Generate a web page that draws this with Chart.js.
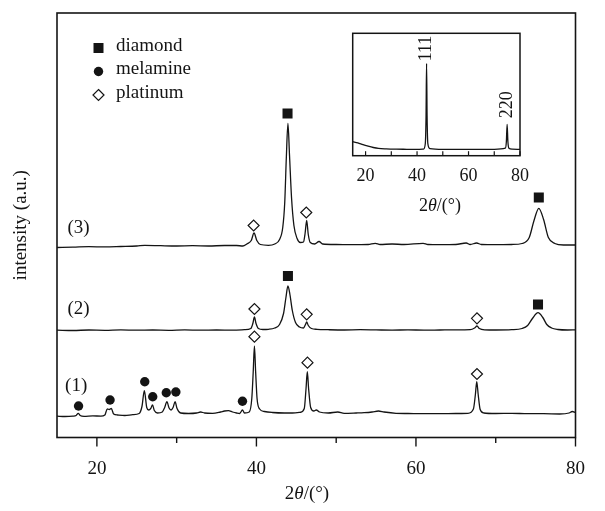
<!DOCTYPE html>
<html lang="en">
<head>
<meta charset="UTF-8">
<title>XRD patterns</title>
<script src="https://cdn.jsdelivr.net/npm/chart.js"></script>
<style>
  body { margin: 0; background: #fff; }
  #wrap { position: relative; width: 605px; height: 511px; }
  #main { position: absolute; left: 0; top: 0; }
  #inset { position: absolute; left: 340px; top: 25px; }
</style>
</head>
<body>
<div id="wrap">
  <canvas id="main" width="605" height="511"></canvas>
  <canvas id="inset" width="200" height="195"></canvas>
</div>
<script>
// ---- data (2theta in degrees, intensity in a.u.) ----
const sampleNames = ['(1)', '(2)', '(3)'];
const offsets = [21, 107, 190];

const theta1 = [15, 16, 17, 17.4, 17.66, 17.9, 18.4, 19.5, 20.5, 21, 21.3, 21.55, 21.8, 22.1, 22.6, 23.5, 24.5, 25.3, 25.65, 25.95,
  26.25, 26.5, 26.75, 26.97, 27.2, 27.6, 28.2, 28.5, 28.78, 29.05, 29.3, 29.55, 29.8, 30.05, 30.5, 31.5, 32.5, 33, 33.5, 34.5,
  35.5, 36, 36.5, 37, 37.5, 37.9, 38.25, 38.5, 39.1, 39.42, 39.6, 39.75, 39.9, 40.08, 40.4, 41, 42, 43.5, 44.5, 45.5,
  46, 46.22, 46.38, 46.54, 46.8, 47.2, 47.5, 47.9, 49, 50.2, 51, 52.5, 53.5, 54.5, 55.3, 56, 57.5, 59, 61, 63,
  65, 66.5, 67.2, 67.45, 67.62, 67.8, 68.05, 68.5, 70, 72, 74, 76, 78, 79.2, 79.6, 80];
const int1 = [0.3, 0, 0.4, 1, 3.2, 1, 0.2, 0.6, 0.4, 1.5, 7.5, 7, 8, 2.5, 1.5, 1, 1.8, 3, 10, 25.8,
  9, 6.5, 8, 11.5, 6, 3.5, 4.5, 9, 14.8, 8.5, 6.5, 9, 14.8, 8, 3.5, 3, 3.5, 4.5, 3.5, 3.2,
  4.5, 5.5, 5.8, 4.5, 3.5, 3, 6.5, 3.5, 4.5, 18, 45, 70.5, 45, 18, 7.5, 5, 4, 3.5, 3.5, 4.2,
  8, 28, 44.8, 28, 9, 5.5, 6.5, 4.5, 3.5, 4.5, 3.2, 3.5, 3.8, 4.5, 5.5, 4.5, 3.2, 3, 2.8, 2.8,
  3, 3.2, 7.5, 22, 34.8, 22, 7, 3.5, 3, 3.2, 2.8, 2.8, 2.5, 3.5, 5, 4];

const theta2 = [15, 17, 19, 21, 23, 25, 27, 29, 31, 33, 35, 37, 38.5, 39.3, 39.55, 39.75, 39.95, 40.25, 40.8, 41.5,
  42.3, 42.9, 43.4, 43.7, 43.95, 44.2, 44.5, 44.9, 45.4, 45.9, 46.15, 46.3, 46.5, 46.9, 47.6, 49, 51, 53, 55, 57,
  59, 61, 63, 65, 66.8, 67.35, 67.65, 67.95, 68.6, 70, 72, 73.3, 74, 74.6, 75.3, 75.9, 76.4, 77, 77.8, 79, 80];
const int2 = [0.3, 0, 0.5, 0.2, 0.6, 0.3, 0.5, 0.2, 0.6, 0.3, 0.5, 0.4, 0.8, 2, 7, 13.5, 7, 2, 1, 1.2,
  2.5, 6, 17, 33, 44.5, 36, 20, 8, 3.5, 2.5, 6, 8.5, 5, 2, 1.2, 0.8, 0.5, 0.8, 0.6, 0.4,
  0.6, 0.4, 0.5, 0.6, 0.8, 2.5, 4.5, 2, 0.7, 0.5, 0.8, 2, 5, 12, 17.8, 13, 6, 2.5, 1, 0.5, 0.6];

const theta3 = [15, 17, 19, 21, 23, 25, 26, 28, 30, 32, 34, 36, 37.5, 38.3, 38.8, 39.35, 39.7, 40.05, 40.5, 41.5,
  42.3, 42.9, 43.3, 43.55, 43.75, 43.95, 44.15, 44.4, 44.7, 45.1, 45.5, 45.9, 46.1, 46.3, 46.5, 46.75, 47.3, 47.85, 48.3, 50,
  52, 54, 54.9, 55.5, 57, 58.5, 60.9, 61.5, 63, 65, 66.3, 66.8, 67.6, 68.2, 70, 72, 73.3, 74.2, 74.8, 75.4,
  76, 76.6, 77.4, 78.5, 80];
const int3 = [0, 0.3, 0.8, 0.6, 1, 1.5, 2.2, 1.8, 1.5, 1.8, 1.5, 2, 2, 1.5, 3.5, 7, 14.5, 7, 3, 2.2,
  3.5, 8, 20, 45, 90, 124, 92, 50, 22, 9, 5, 5.5, 14, 27, 13, 5, 3.5, 6, 3.5, 3,
  2.8, 3, 4.2, 3, 3.5, 3, 4.2, 3, 2.8, 3, 4.5, 3, 4.5, 3, 2.8, 3, 4, 10, 27, 39.2,
  28, 10, 4, 2.5, 2.5];

// phase markers (2theta, a.u.)
const diamondTheta = [43.9, 75.4, 43.95, 75.3];
const diamondY = [324, 240, 161.5, 133];
const melamineTheta = [17.7, 21.65, 26.0, 27.0, 28.7, 29.9, 38.25];
const melamineY = [31.5, 37.5, 55.8, 40.8, 44.8, 45.5, 36.2];
const platinumTheta = [39.65, 46.25, 39.75, 46.3, 67.65, 39.75, 46.4, 67.65];
const platinumY = [212, 225, 128.5, 123.2, 119.2, 100.8, 74.8, 63.5];

// inset: pure diamond pattern
const insetTheta = [15, 17, 19, 21, 23, 25, 28, 32, 36, 40, 42.5, 43.2, 43.5, 43.7, 43.9, 44.2, 45, 50, 55, 60,
  65, 70, 74.3, 74.7, 75, 75.3, 75.7, 77, 80];
const insetInt = [14, 12.8, 11, 9.5, 8.2, 7.3, 6.8, 6.5, 6.4, 6.3, 6.6, 12, 40, 92.4, 40, 12, 7, 6.3, 6.3, 6.3,
  6.3, 6.4, 7.5, 14, 31.4, 14, 7.5, 6.5, 6.3];
const insetPeakNames = ['111', '220'];
const insetPeakTheta = [43.7, 75.0];
const insetPeakTop = [92.4, 31.4];

const xTicks = [20, 30, 40, 50, 60, 70, 80];
const xTickLabels = [20, 40, 60, 80];

// ---- styling ----
const FONT = "'Liberation Serif', 'Times New Roman', serif";
const INK = '#141414';

const pts = (xs, ys, off) => xs.map((x, i) => ({ x: x, y: ys[i] + (off || 0) }));

function traceSet(name, xs, ys, off) {
  return {
    label: name, data: pts(xs, ys, off), borderColor: INK, borderWidth: 1.3,
    pointRadius: 0, cubicInterpolationMode: 'monotone', fill: false
  };
}

function drawMarker(ctx, style, x, y) {
  ctx.beginPath();
  if (style === 'rect') {
    ctx.rect(x - 5, y - 5, 10, 10);
    ctx.fillStyle = INK; ctx.fill();
  } else if (style === 'circle') {
    ctx.arc(x, y, 4.7, 0, Math.PI * 2);
    ctx.fillStyle = INK; ctx.fill();
  } else {
    ctx.moveTo(x, y - 5.5); ctx.lineTo(x + 5.5, y); ctx.lineTo(x, y + 5.5); ctx.lineTo(x - 5.5, y); ctx.closePath();
    ctx.fillStyle = '#fff'; ctx.fill();
    ctx.lineWidth = 1.2; ctx.strokeStyle = INK; ctx.stroke();
  }
}

const mainDecor = {
  id: 'mainDecor',
  afterDraw(chart) {
    const { ctx, chartArea: a, scales: { x, y } } = chart;
    ctx.save();
    ctx.strokeStyle = INK;
    ctx.lineWidth = 1.6;
    ctx.strokeRect(a.left, a.top, a.width, a.height);
    // outward ticks on the bottom axis
    ctx.lineWidth = 1.4;
    xTicks.forEach(v => {
      const px = x.getPixelForValue(v);
      const len = xTickLabels.includes(v) ? 9 : 5.5;
      ctx.beginPath(); ctx.moveTo(px, a.bottom); ctx.lineTo(px, a.bottom + len); ctx.stroke();
    });
    ctx.fillStyle = INK;
    ctx.font = '19px ' + FONT;
    ctx.textBaseline = 'middle';
    ctx.textAlign = 'center';
    // sample numbers
    const anchors = [[17.4, 51.5], [17.7, 128.5], [17.7, 209.5]];
    sampleNames.forEach((s, i) => {
      ctx.fillText(s, x.getPixelForValue(anchors[i][0]), y.getPixelForValue(anchors[i][1]));
    });
    // legend
    const legend = [['rect', 'diamond'], ['circle', 'melamine'], ['rectRot', 'platinum']];
    legend.forEach((it, i) => {
      const ly = a.top + 35 + i * 23.5;
      drawMarker(ctx, it[0], a.left + 41.5, ly);
      ctx.fillStyle = INK;
      ctx.textAlign = 'left';
      ctx.fillText(it[1], a.left + 59, ly - 2);
    });
    // x axis title 2θ/(°)
    drawThetaTitle(ctx, 307, 494, 19);
    ctx.restore();
  }
};

function drawThetaTitle(ctx, cx, cy, size) {
  const parts = [['2', ''], ['\u03b8', 'italic '], ['/(\u00b0)', '']];
  let w = 0;
  parts.forEach(p => { ctx.font = p[1] + size + 'px ' + FONT; w += ctx.measureText(p[0]).width; });
  let px = cx - w / 2;
  ctx.textAlign = 'left';
  ctx.textBaseline = 'middle';
  ctx.fillStyle = INK;
  parts.forEach(p => {
    ctx.font = p[1] + size + 'px ' + FONT;
    ctx.fillText(p[0], px, cy);
    px += ctx.measureText(p[0]).width;
  });
}

new Chart(document.getElementById('main'), {
  type: 'line',
  data: {
    datasets: [
      traceSet(sampleNames[0], theta1, int1, offsets[0]),
      traceSet(sampleNames[1], theta2, int2, offsets[1]),
      traceSet(sampleNames[2], theta3, int3, offsets[2]),
      { type: 'scatter', label: 'diamond', data: pts(diamondTheta, diamondY), showLine: false,
        pointStyle: 'rect', pointRadius: 7.1, backgroundColor: INK, borderColor: INK, borderWidth: 0 },
      { type: 'scatter', label: 'melamine', data: pts(melamineTheta, melamineY), showLine: false,
        pointStyle: 'circle', pointRadius: 4.7, backgroundColor: INK, borderColor: INK, borderWidth: 0 },
      { type: 'scatter', label: 'platinum', data: pts(platinumTheta, platinumY), showLine: false,
        pointStyle: 'rectRot', pointRadius: 5.5, backgroundColor: '#fff', borderColor: INK, borderWidth: 1.2 }
    ]
  },
  options: {
    responsive: false,
    animation: false,
    events: [],
    layout: { padding: { left: 0, right: 12, top: 13, bottom: 0 } },
    plugins: { legend: { display: false }, tooltip: { enabled: false } },
    scales: {
      x: {
        type: 'linear', min: 15, max: 80,
        afterBuildTicks: s => { s.ticks = xTicks.map(v => ({ value: v })); },
        afterFit: s => { s.height = 73.5; },
        grid: { display: false, drawTicks: false },
        border: { display: false },
        ticks: {
          padding: 20, autoSkip: false, maxRotation: 0, color: INK,
          font: { family: FONT, size: 19 },
          callback: v => xTickLabels.includes(v) ? String(v) : ''
        }
      },
      y: {
        min: 0, max: 424.5,
        afterFit: s => { s.width = 57; },
        grid: { display: false, drawTicks: false },
        border: { display: false },
        ticks: { display: false },
        title: {
          display: true, text: 'intensity (a.u.)', color: INK,
          font: { family: FONT, size: 19 }, padding: { top: 10, bottom: 0 }
        }
      }
    }
  },
  plugins: [mainDecor]
});

const insetDecor = {
  id: 'insetDecor',
  afterDraw(chart) {
    const { ctx, chartArea: a, scales: { x, y } } = chart;
    ctx.save();
    ctx.strokeStyle = INK;
    ctx.lineWidth = 1.5;
    ctx.strokeRect(a.left, a.top, a.width, a.height);
    ctx.lineWidth = 1.2;
    xTicks.forEach(v => {
      const px = x.getPixelForValue(v);
      ctx.beginPath(); ctx.moveTo(px, a.bottom); ctx.lineTo(px, a.bottom - 4.5); ctx.stroke();
    });
    // reflection labels, rotated
    ctx.fillStyle = INK;
    ctx.font = '18px ' + FONT;
    ctx.textBaseline = 'middle';
    ctx.textAlign = 'left';
    const gaps = [2, 6];
    insetPeakNames.forEach((s, i) => {
      ctx.save();
      ctx.translate(x.getPixelForValue(insetPeakTheta[i]), y.getPixelForValue(insetPeakTop[i]) - gaps[i]);
      ctx.rotate(-Math.PI / 2);
      ctx.fillText(s, 0, 0);
      ctx.restore();
    });
    drawThetaTitle(ctx, 100, 181.5, 18);
    ctx.restore();
  }
};

new Chart(document.getElementById('inset'), {
  type: 'line',
  data: {
    datasets: [{
      label: 'diamond', data: pts(insetTheta, insetInt), borderColor: INK, borderWidth: 1.3,
      pointRadius: 0, cubicInterpolationMode: 'monotone', fill: false
    }]
  },
  options: {
    responsive: false,
    animation: false,
    events: [],
    layout: { padding: { left: 12.7, right: 20, top: 8.3, bottom: 0 } },
    plugins: { legend: { display: false }, tooltip: { enabled: false } },
    scales: {
      x: {
        type: 'linear', min: 15, max: 80,
        afterBuildTicks: s => { s.ticks = xTicks.map(v => ({ value: v })); },
        afterFit: s => { s.height = 64.3; },
        grid: { display: false, drawTicks: false },
        border: { display: false },
        ticks: {
          padding: 10, autoSkip: false, maxRotation: 0, color: INK,
          font: { family: FONT, size: 18 },
          callback: v => xTickLabels.includes(v) ? String(v) : ''
        }
      },
      y: { display: false, min: 0, max: 122.4 }
    }
  },
  plugins: [insetDecor]
});
</script>
</body>
</html>
